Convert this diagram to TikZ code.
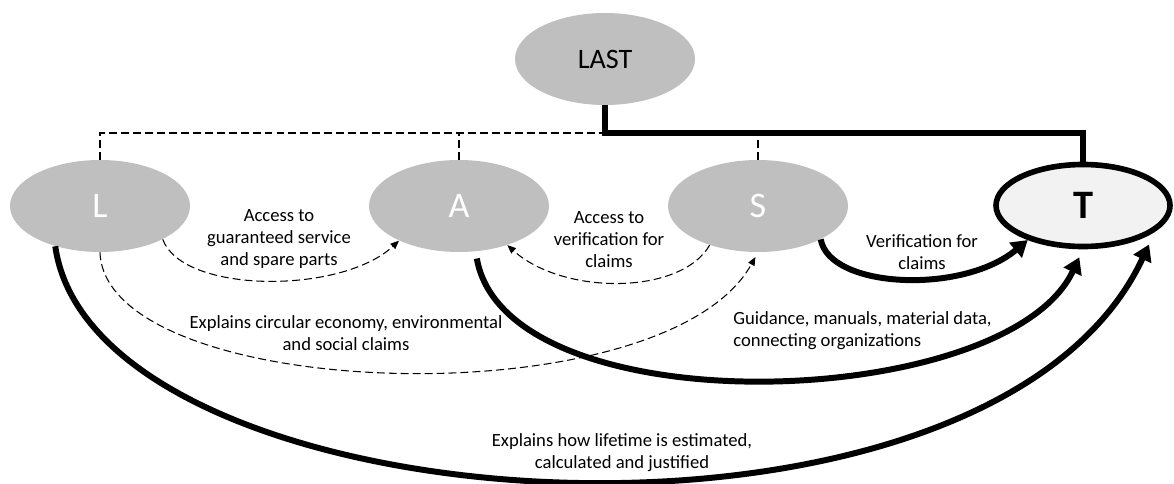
\documentclass[tikz,border=0pt]{standalone}
\usepackage{fontspec}
\setmainfont{Carlito}
\usetikzlibrary{arrows.meta,shapes.geometric}
\definecolor{actorgray}{HTML}{BFBFBF}
\definecolor{targetfill}{HTML}{F2F2F2}

\begin{document}
\begin{tikzpicture}[
  font=\fontsize{10.6}{12.5}\selectfont,
  actor/.style={ellipse, fill=actorgray, minimum width=3.6cm,
    minimum height=1.84cm, inner sep=0pt, text=white,
    font=\fontsize{20.5}{24}\selectfont},
  hub/.style={ellipse, fill=actorgray, minimum width=3.6cm,
    minimum height=1.84cm, inner sep=0pt,
    font=\fontsize{16}{19}\selectfont},
  target/.style={ellipse, draw=black, line width=3.2pt, fill=targetfill,
    minimum width=3.48cm, minimum height=1.64cm, inner sep=0pt,
    font=\fontsize{23}{27}\selectfont\bfseries},
  link/.style={line width=3.4pt},
  branch/.style={line width=0.6pt, dash pattern=on 4.5pt off 2.3pt},
  strong/.style={line width=3.4pt, -{Triangle[length=0.32cm, width=0.38cm]}},
  soft/.style={line width=0.6pt, dash pattern=on 4.5pt off 2.3pt,
    -{Triangle[length=0.17cm, width=0.14cm]}},
  note/.style={align=center, inner sep=0pt}
]
\useasboundingbox (0,0) rectangle (23.48,9.66);

% actors
\node[hub] (last) at (12.10,8.48) {LAST};
\node[actor] (l) at (2.00,5.54) {L};
\node[actor] (a) at (9.18,5.54) {A};
\node[actor] (s) at (15.16,5.54) {S};
\node[target] (t) at (21.66,5.55) {T};
\coordinate (bus) at (12.10,7.00);

% hierarchy
\draw[branch] (l.north) |- (bus);
\draw[branch] (a.north) -- (a.north |- bus);
\draw[branch] (s.north) -- (s.north |- bus);
\draw[link] (last.south) -- (bus) -| (t.north);

% flows
\draw[soft] (l.-28) to[out=-70, in=223, out distance=1.16cm, in distance=1.58cm] (a.210);
\draw[soft] (s.219) to[out=-120, in=-42, out distance=1.16cm, in distance=1.5cm] (a.-39);
\draw[soft, shorten >=3pt] (l.south) to[out=-88, in=241, out distance=3cm, in distance=3.86cm] (s.south);
\draw[strong, shorten <=4pt, shorten >=5pt] (a.-70) to[out=-80, in=245, out distance=3.6cm, in distance=3.6cm] (t.south);
\draw[strong] (s.-28) to[out=-80, in=220, out distance=1cm, in distance=1.7cm] (t.212);
\draw[strong, shorten >=8pt] (l.222) to[out=-82, in=245, out distance=5.7cm, in distance=7.9cm] (t.-20);

% labels
\node[note] (service) at (5.58,4.88) {Access to\\guaranteed service\\and spare parts};
\node[note] (verify) at (12.18,4.86) {Access to\\verification for\\claims};
\node[note] (claims) at (18.44,4.62) {Verification for\\claims};
\node[note] (circular) at (6.92,3.00) {Explains circular economy, environmental\\and social claims};
\node[note, anchor=west, align=left] (guidance) at (14.66,3.04) {Guidance, manuals, material data,\\connecting organizations};
\node[note] (lifetime) at (12.44,0.60) {Explains how lifetime is estimated,\\calculated and justified};
\end{tikzpicture}
\end{document}
